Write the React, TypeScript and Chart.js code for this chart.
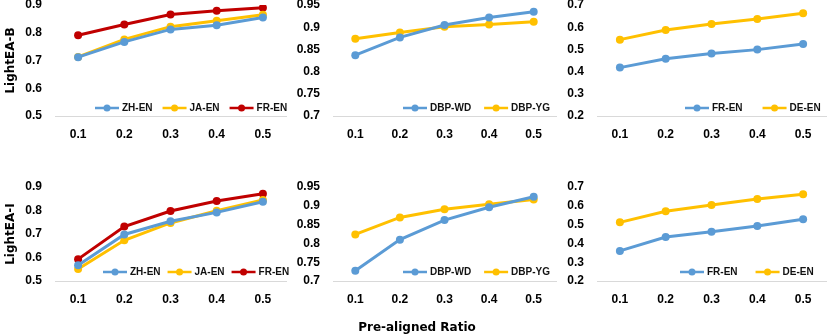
import React, { useEffect, useRef } from "react";
import { Chart, registerables } from "chart.js";
Chart.register(...registerables);

const ratios = ["0.1", "0.2", "0.3", "0.4", "0.5"];

// LightEA-B
const bZhEn = [0.712, 0.767, 0.812, 0.827, 0.855];
const bJaEn = [0.713, 0.776, 0.822, 0.843, 0.865];
const bFrEn = [0.791, 0.830, 0.866, 0.879, 0.890];
const bDbpWd = [0.837, 0.877, 0.905, 0.922, 0.935];
const bDbpYg = [0.874, 0.888, 0.901, 0.906, 0.912];
const bFrEn2 = [0.418, 0.458, 0.482, 0.499, 0.524];
const bDeEn = [0.544, 0.587, 0.614, 0.637, 0.663];

// LightEA-I
const iZhEn = [0.567, 0.698, 0.754, 0.792, 0.837];
const iJaEn = [0.551, 0.673, 0.747, 0.799, 0.845];
const iFrEn = [0.593, 0.732, 0.798, 0.840, 0.871];
const iDbpWd = [0.727, 0.810, 0.862, 0.896, 0.924];
const iDbpYg = [0.824, 0.869, 0.891, 0.904, 0.917];
const iFrEn2 = [0.360, 0.434, 0.462, 0.492, 0.528];
const iDeEn = [0.512, 0.571, 0.604, 0.636, 0.661];

const BLUE = "#5B9BD5";
const YELLOW = "#FFC000";
const RED = "#C00000";

const TICK_FONT = { family: "'Liberation Sans', Arial, sans-serif", size: 12, weight: "bold" as const };

const legendPlugin = {
  id: "insideLegend",
  afterDraw(chart: any, _args: any, opts: any) {
    const { ctx, chartArea } = chart;
    let x = chartArea.left + opts.startX;
    const y = chartArea.bottom - opts.dy;
    ctx.save();
    ctx.font = "bold 10px 'Liberation Sans', Arial, sans-serif";
    ctx.textBaseline = "middle";
    ctx.textAlign = "left";
    chart.data.datasets.forEach((ds: any) => {
      ctx.strokeStyle = ds.borderColor;
      ctx.fillStyle = ds.borderColor;
      ctx.lineWidth = 2.5;
      ctx.beginPath();
      ctx.moveTo(x, y);
      ctx.lineTo(x + 24, y);
      ctx.stroke();
      ctx.beginPath();
      ctx.arc(x + 12, y, 3.5, 0, Math.PI * 2);
      ctx.fill();
      ctx.fillStyle = "#111";
      ctx.fillText(ds.label, x + 27, y + 0.5);
      const w = ctx.measureText(ds.label).width;
      x += 27 + w + opts.gap;
    });
    ctx.restore();
  },
};

type Series = { label: string; data: number[]; color: string };

type PanelProps = {
  left: number;
  top: number;
  width: number;
  height: number;
  yWidth: number;
  xHeight: number;
  padTop: number;
  padRight: number;
  yMin: number;
  yMax: number;
  yStep: number;
  yTitle?: string;
  series: Series[];
  legendStart: number;
  legendGap: number;
  legendDy: number;
};

function Panel(p: PanelProps) {
  const ref = useRef<HTMLCanvasElement | null>(null);
  useEffect(() => {
    if (!ref.current) return;
    const chart = new Chart(ref.current, {
      type: "line",
      data: {
        labels: ratios,
        datasets: p.series.map((s) => ({
          label: s.label,
          data: s.data,
          borderColor: s.color,
          backgroundColor: s.color,
          pointBackgroundColor: s.color,
          pointBorderColor: s.color,
          borderWidth: 3,
          pointRadius: 4,
          pointBorderWidth: 0,
          tension: 0,
          fill: false,
        })),
      },
      options: {
        responsive: false,
        animation: false,
        devicePixelRatio: 1,
        layout: { padding: { top: p.padTop, right: p.padRight, left: 0, bottom: 0 } },
        plugins: {
          legend: { display: false },
          tooltip: { enabled: false },
          insideLegend: { startX: p.legendStart, gap: p.legendGap, dy: p.legendDy },
        } as any,
        scales: {
          x: {
            type: "category",
            offset: true,
            grid: { display: false, drawTicks: false },
            border: { display: true, color: "#D9D9D9", width: 1 },
            ticks: { color: "#000", font: TICK_FONT, padding: 11, maxRotation: 0 },
            afterFit: (scale: any) => {
              scale.height = p.xHeight;
            },
          },
          y: {
            min: p.yMin,
            max: p.yMax,
            grid: { display: false, drawTicks: false },
            border: { display: false },
            ticks: {
              stepSize: p.yStep,
              color: "#000",
              font: TICK_FONT,
              padding: 13,
              callback: (v: any) => String(Number(Number(v).toFixed(2))),
            },
            title: {
              display: !!p.yTitle,
              text: p.yTitle || "",
              color: "#000",
              font: { family: "'DejaVu Sans', Verdana, sans-serif", size: 12, weight: "bold" },
              padding: { top: 4, bottom: 4 },
            },
            afterFit: (scale: any) => {
              scale.width = p.yWidth;
              scale.paddingTop = 0;
              scale.paddingBottom = 0;
            },
          },
        },
      },
      plugins: [legendPlugin],
    });
    return () => chart.destroy();
  }, []);
  return (
    <canvas
      ref={ref}
      width={p.width}
      height={p.height}
      style={{ position: "absolute", left: p.left, top: p.top, width: p.width, height: p.height }}
    />
  );
}

export default function App() {
  const rowTop = { top: 0, height: 165, padTop: 5, xHeight: 49, legendDy: 8 };
  const rowBot = { top: 165, height: 170, padTop: 22, xHeight: 54, legendDy: 9 };
  return (
    <div style={{ position: "absolute", left: 0, top: 0, width: 830, height: 335, background: "#fff", overflow: "hidden" }}>
      <Panel
        left={0} width={290} yWidth={55} padRight={2} {...rowTop}
        yMin={0.5} yMax={0.9} yStep={0.1} yTitle="LightEA-B"
        series={[
          { label: "ZH-EN", data: bZhEn, color: BLUE },
          { label: "JA-EN", data: bJaEn, color: YELLOW },
          { label: "FR-EN", data: bFrEn, color: RED },
        ]}
        legendStart={40} legendGap={10}
      />
      <Panel
        left={290} width={270} yWidth={43} padRight={1} {...rowTop}
        yMin={0.7} yMax={0.95} yStep={0.05}
        series={[
          { label: "DBP-WD", data: bDbpWd, color: BLUE },
          { label: "DBP-YG", data: bDbpYg, color: YELLOW },
        ]}
        legendStart={70} legendGap={13}
      />
      <Panel
        left={560} width={270} yWidth={37} padRight={0} {...rowTop}
        yMin={0.2} yMax={0.7} yStep={0.1}
        series={[
          { label: "FR-EN", data: bFrEn2, color: BLUE },
          { label: "DE-EN", data: bDeEn, color: YELLOW },
        ]}
        legendStart={88} legendGap={20}
      />
      <Panel
        left={0} width={290} yWidth={55} padRight={2} {...rowBot}
        yMin={0.5} yMax={0.9} yStep={0.1} yTitle="LightEA-I"
        series={[
          { label: "ZH-EN", data: iZhEn, color: BLUE },
          { label: "JA-EN", data: iJaEn, color: YELLOW },
          { label: "FR-EN", data: iFrEn, color: RED },
        ]}
        legendStart={48} legendGap={7}
      />
      <Panel
        left={290} width={270} yWidth={43} padRight={1} {...rowBot}
        yMin={0.7} yMax={0.95} yStep={0.05}
        series={[
          { label: "DBP-WD", data: iDbpWd, color: BLUE },
          { label: "DBP-YG", data: iDbpYg, color: YELLOW },
        ]}
        legendStart={70} legendGap={13}
      />
      <Panel
        left={560} width={270} yWidth={37} padRight={0} {...rowBot}
        yMin={0.2} yMax={0.7} yStep={0.1}
        series={[
          { label: "FR-EN", data: iFrEn2, color: BLUE },
          { label: "DE-EN", data: iDeEn, color: YELLOW },
        ]}
        legendStart={83} legendGap={18}
      />
      <div
        style={{
          position: "absolute",
          left: 0,
          top: 320,
          width: 834,
          textAlign: "center",
          font: "bold 12px 'DejaVu Sans', Verdana, sans-serif",
          lineHeight: "14px",
          color: "#000",
        }}
      >
        Pre-aligned Ratio
      </div>
    </div>
  );
}
